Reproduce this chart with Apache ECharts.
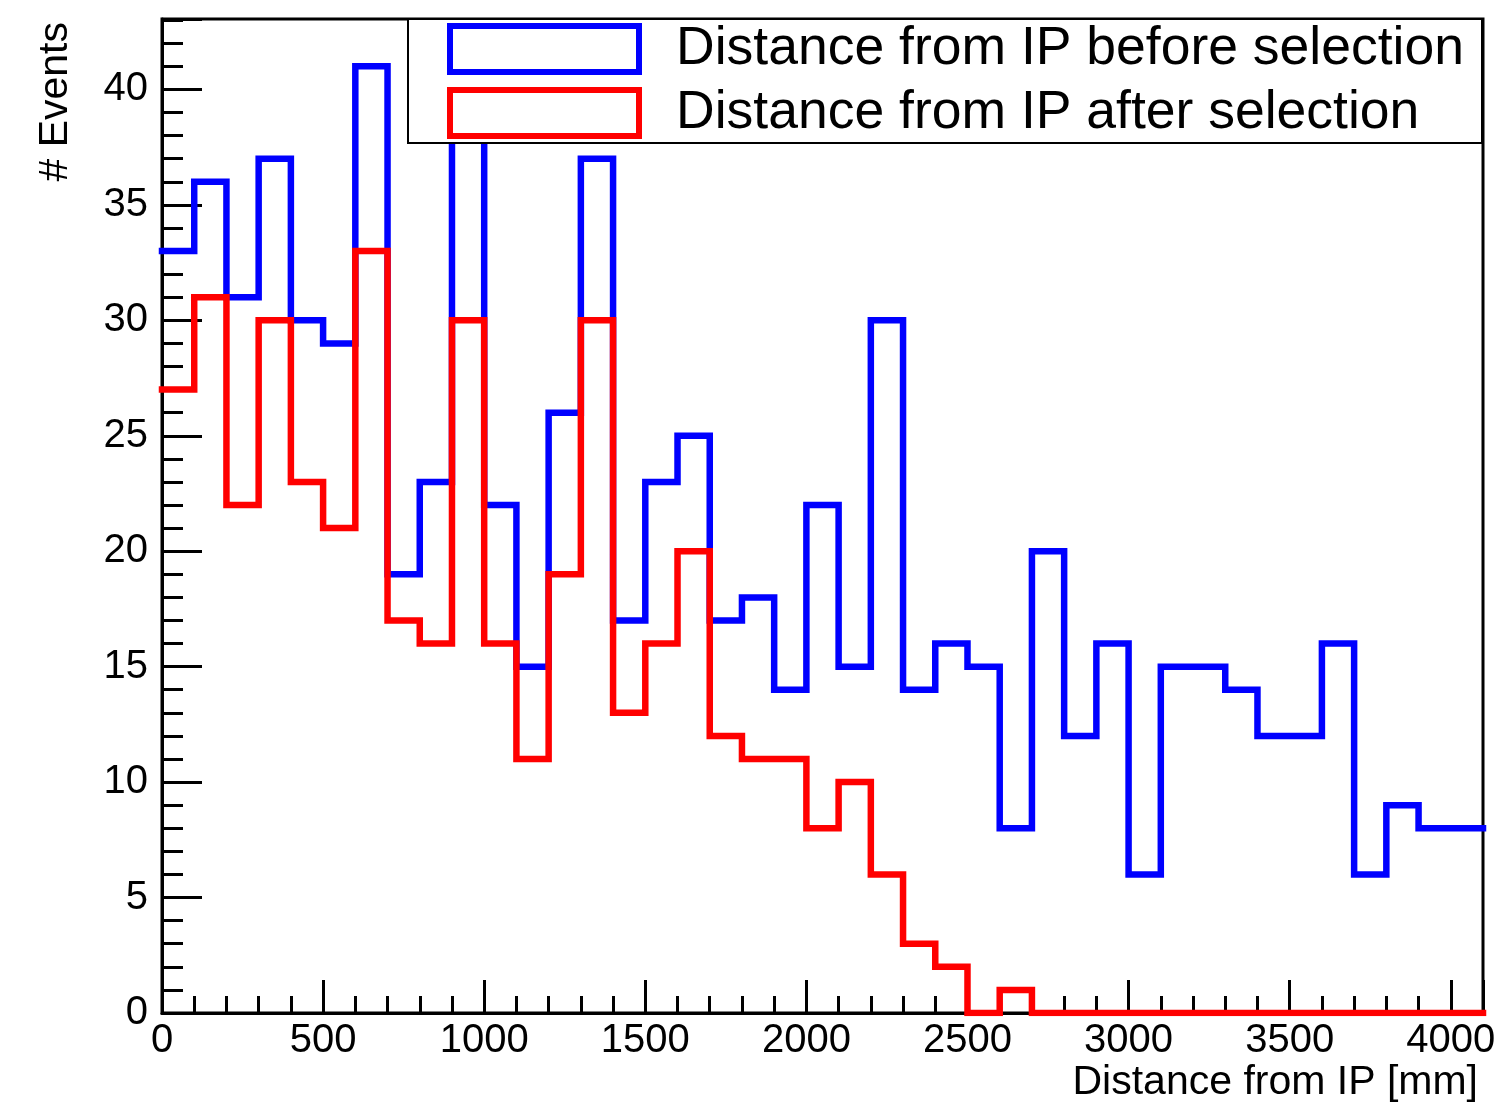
<!DOCTYPE html>
<html>
<head>
<meta charset="utf-8">
<script src="https://cdn.jsdelivr.net/npm/echarts@6/dist/echarts.min.js"></script>
<style>
  html, body { margin: 0; padding: 0; background: #fff; }
  #chart { width: 1497px; height: 1104px; }
</style>
</head>
<body>
<div id="chart"></div>
<script>
// Histogram bin edges (mm), 41 bins of 100 mm
const binEdges = [0, 100, 200, 300, 400, 500, 600, 700, 800, 900, 1000,
  1100, 1200, 1300, 1400, 1500, 1600, 1700, 1800, 1900, 2000,
  2100, 2200, 2300, 2400, 2500, 2600, 2700, 2800, 2900, 3000,
  3100, 3200, 3300, 3400, 3500, 3600, 3700, 3800, 3900, 4000, 4100];

// Event counts per bin
const beforeSelection = [33, 36, 31, 37, 30, 29, 41, 19, 23, 39,
  22, 15, 26, 37, 17, 23, 25, 17, 18, 14,
  22, 15, 30, 14, 16, 15, 8, 20, 12, 16,
  6, 15, 15, 14, 12, 12, 16, 6, 9, 8, 8];
const afterSelection = [27, 31, 22, 30, 23, 21, 33, 17, 16, 30,
  16, 11, 19, 30, 13, 16, 20, 12, 11, 11,
  8, 10, 6, 3, 2, 0, 1, 0, 0, 0,
  0, 0, 0, 0, 0, 0, 0, 0, 0, 0, 0];

const seriesNames = ['Distance from IP before selection', 'Distance from IP after selection'];
const xTickLabels = [0, 500, 1000, 1500, 2000, 2500, 3000, 3500, 4000];
const yTickLabels = [0, 5, 10, 15, 20, 25, 30, 35, 40];
const xTitle = 'Distance from IP [mm]';
const yTitle = '# Events';

const X_MAX = 4100;
const Y_MAX = 43.05;
const FONT = '"Liberation Sans", Arial, Helvetica, sans-serif';
const BLUE = '#0000ff';
const RED = '#ff0000';

// Step outline: one point per bin low edge, plus the upper edge of the last bin
function stepPoints(values) {
  const pts = values.map((v, i) => [binEdges[i], v]);
  pts.push([binEdges[values.length], values[values.length - 1]]);
  return pts;
}

const chart = echarts.init(document.getElementById('chart'), null, { renderer: 'canvas' });

const majorTick = { show: true, inside: true, lineStyle: { color: '#000', width: 3 } };

const option = {
  animation: false,
  backgroundColor: '#fff',
  grid: {
    left: 162, right: 14, top: 19, bottom: 91,
    show: true, borderColor: '#000', borderWidth: 3, backgroundColor: 'transparent',
    containLabel: false, outerBoundsMode: 'none'
  },
  legend: {
    orient: 'vertical',
    left: 408, top: 19,
    padding: [3, 18, 3, 39],
    itemGap: 10,
    itemWidth: 189, itemHeight: 46,
    backgroundColor: '#fff',
    borderColor: '#000', borderWidth: 2,
    selectedMode: false,
    textStyle: { fontFamily: FONT, fontSize: 53.5, color: '#000', lineHeight: 40, padding: [0, 0, 12, 32] },
    data: [
      { name: seriesNames[0], icon: 'rect', itemStyle: { color: '#fff', borderColor: BLUE, borderWidth: 6 } },
      { name: seriesNames[1], icon: 'rect', itemStyle: { color: '#fff', borderColor: RED, borderWidth: 6 } }
    ]
  },
  xAxis: [
    {
      type: 'value', min: 0, max: X_MAX, interval: 500, position: 'bottom',
      name: xTitle, nameLocation: 'end', nameGap: -5, nameMoveOverlap: false,
      nameTextStyle: { fontFamily: FONT, fontSize: 41, color: '#000', align: 'right', verticalAlign: 'top', lineHeight: 41, padding: [49, 0, 0, 0] },
      axisLine: { show: true, onZero: false, lineStyle: { color: '#000', width: 3 } },
      axisTick: Object.assign({ length: 33 }, majorTick),
      axisLabel: {
        show: true, margin: 8, fontFamily: FONT, fontSize: 40, color: '#000', lineHeight: 40,
        showMinLabel: true, showMaxLabel: true, hideOverlap: false,
        formatter: v => (xTickLabels.includes(v) ? String(v) : '')
      },
      splitLine: { show: false }
    },
    {
      type: 'value', min: 0, max: X_MAX, interval: 100, position: 'bottom',
      axisLine: { show: false },
      axisTick: Object.assign({ length: 17 }, majorTick),
      axisLabel: { show: false },
      splitLine: { show: false }
    }
  ],
  yAxis: [
    {
      type: 'value', min: 0, max: Y_MAX, interval: 5, position: 'left',
      name: yTitle, nameLocation: 'end', nameGap: -3, nameRotate: 90, nameMoveOverlap: false,
      nameTextStyle: { fontFamily: FONT, fontSize: 41, color: '#000', align: 'right', verticalAlign: 'bottom', lineHeight: 41, padding: [0, 0, 86, 0] },
      axisLine: { show: true, onZero: false, lineStyle: { color: '#000', width: 3 } },
      axisTick: Object.assign({ length: 40 }, majorTick),
      axisLabel: {
        show: true, margin: 14, fontFamily: FONT, fontSize: 40, color: '#000',
        showMinLabel: true, showMaxLabel: true, hideOverlap: false,
        formatter: v => (yTickLabels.includes(v) ? String(v) : '')
      },
      splitLine: { show: false }
    },
    {
      type: 'value', min: 0, max: Y_MAX, interval: 1, position: 'left',
      axisLine: { show: false },
      axisTick: Object.assign({ length: 21 }, majorTick),
      axisLabel: { show: false },
      splitLine: { show: false }
    }
  ],
  series: [
    {
      name: seriesNames[0], type: 'line', step: 'end',
      xAxisIndex: 0, yAxisIndex: 0,
      showSymbol: false, symbol: 'none',
      lineStyle: { color: BLUE, width: 6.5, join: 'miter', cap: 'square' },
      itemStyle: { color: BLUE },
      data: stepPoints(beforeSelection),
      z: 2
    },
    {
      name: seriesNames[1], type: 'line', step: 'end',
      xAxisIndex: 0, yAxisIndex: 0,
      showSymbol: false, symbol: 'none',
      lineStyle: { color: RED, width: 6.5, join: 'miter', cap: 'square' },
      itemStyle: { color: RED },
      data: stepPoints(afterSelection),
      z: 3
    }
  ]
};

chart.setOption(option);
</script>
</body>
</html>
